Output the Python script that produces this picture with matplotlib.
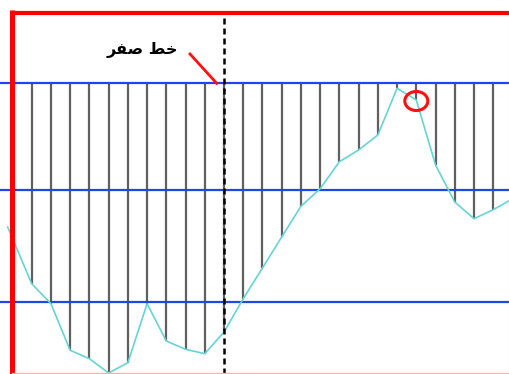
import numpy as np
import matplotlib
matplotlib.use("Agg")
import matplotlib.pyplot as plt
from matplotlib.lines import Line2D
from matplotlib.patches import Ellipse

# ── Data ──
# sample index of each vertical drop line
idx = list(range(25))
# curve depth below the zero line at each sample
depth = [-200.7, -220.7, -267.3, -275.7, -290.0, -279.7, -220.7, -258.0,
         -266.3, -270.7, -249.0, -215.7, -185.0, -154.0, -123.3, -105.7,
         -78.7, -67.0, -52.0, -5.3, -17.0, -82.0, -119.0, -135.7, -126.7]
# curve runs a little past the first and last sample
curve_x = [-1.25] + idx + [24.9]
curve_y = [-144.0] + depth + [-117.0]
# horizontal reference lines (zero line and two lower levels)
levels = [0, -107, -219]
zero_idx = 10          # dashed vertical marker position
mark_idx, mark_val = 20, -18   # circled point
label = "\uFEAE\uFED4\uFEBB \uFEC2\uFEA7"   # "خط صفر" in shaped visual order

W, H = 510, 374
fig = plt.figure(figsize=(W / 100, H / 100), dpi=100)
ax = fig.add_axes([0, 0, 1, 1])
ax.set_axis_off()
x0, dx = 31.7, 19.23
ax.set_xlim(-x0 / dx, (W - x0) / dx)
ax.set_ylim(83 - H, 83)

for lv in levels:
    ax.axhline(lv, color="#2244ee", linewidth=1.6, zorder=2)

ax.vlines(idx, depth, 0, color="#606060", linewidth=1.6, zorder=1)
ax.plot(curve_x, curve_y, color="#66d4d4", linewidth=1.2, zorder=3)

ax.axvline(zero_idx, ymax=1 - 12 / H, color="black", linewidth=1.8,
           linestyle=(0, (2.4, 1.6)), zorder=4)

ax.add_patch(Ellipse((mark_idx, mark_val), width=23 / dx, height=19,
                     fill=False, edgecolor="#ff1010", linewidth=2.2, zorder=5))

# annotation
fig.text(142 / W, 1 - 50 / H, label, fontsize=11.5, fontweight="bold",
         ha="center", va="center", family=["DejaVu Sans", "Noto Sans"])
fig.add_artist(Line2D([190 / W, 216.7 / W], [1 - 54 / H, 1 - 83.3 / H],
                      transform=fig.transFigure, color="#ff1010",
                      linewidth=2.0))

# red frame
fig.add_artist(Line2D([12.5 / W, 12.5 / W], [1 - 10 / H, 0],
                      transform=fig.transFigure, color="#ff0000",
                      linewidth=3.6, solid_capstyle="butt", zorder=6))
fig.add_artist(Line2D([10 / W, 1], [1 - 12.5 / H, 1 - 12.5 / H],
                      transform=fig.transFigure, color="#ff0000",
                      linewidth=3.0, solid_capstyle="butt", zorder=6))
fig.add_artist(Line2D([509 / W, 509 / W], [1 - 12 / H, 0],
                      transform=fig.transFigure, color="#ffc8c8",
                      linewidth=0.8, zorder=6))
fig.add_artist(Line2D([12 / W, 1], [1.5 / H, 1.5 / H],
                      transform=fig.transFigure, color="#ffb0b0",
                      linewidth=1.0, zorder=6))

fig.savefig("out.png", dpi=100)
plt.close()
